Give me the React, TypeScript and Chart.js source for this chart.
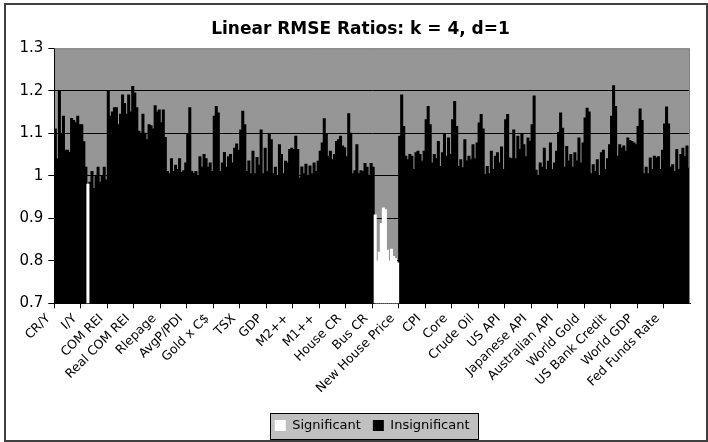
import { useEffect, useRef } from 'react';
import { Chart, registerables } from 'chart.js';

Chart.register(...registerables);

// Category groups (one axis label per group)
const groupLabels: string[] = [
  'CR/Y', 'I/Y', 'COM REI', 'Real COM REI', 'Rlepage', 'AvgP/PDI', 'Gold x C$', 'TSX',
  'GDP', 'M2++', 'M1++', 'House CR', 'Bus CR', 'New House Price', 'CPI', 'Core',
  'Crude Oil', 'US API', 'Japanese API', 'Australian API', 'World Gold', 'US Bank Credit',
  'World GDP', 'Fed Funds Rate',
];

// RMSE ratios, 13 bars per group, in group order
const ratios: number[] = [
  1.11, 1.04, 1.2, 1.1, 1.14, 1.06, 1.06, 1.055, 1.135, 1.13, 1.125, 1.14, 1.12,
  1.12, 1.08, 1.02, 0.98, 0.985, 1.01, 0.97, 1.0, 1.02, 0.985, 1.0, 1.02, 0.99,
  1.2, 1.14, 1.15, 1.16, 1.16, 1.12, 1.145, 1.19, 1.17, 1.145, 1.19, 1.15, 1.21,
  1.195, 1.16, 1.105, 1.1, 1.145, 1.1, 1.085, 1.12, 1.118, 1.11, 1.165, 1.15, 1.155,
  1.125, 1.155, 1.09, 1.01, 1.005, 1.04, 1.01, 1.025, 1.015, 1.04, 1.008, 1.012, 1.03,
  1.097, 1.16, 1.01, 1.005, 1.01, 1.0, 1.045, 1.02, 1.05, 1.04, 1.02, 1.03, 1.01,
  1.14, 1.163, 1.148, 1.01, 1.03, 1.055, 1.02, 1.045, 1.05, 1.03, 1.065, 1.075, 1.06,
  1.108, 1.152, 1.12, 1.01, 1.035, 1.005, 1.058, 1.005, 1.043, 1.025, 1.108, 1.005, 1.065,
  1.01, 1.097, 1.085, 1.005, 1.02, 1.0, 1.073, 1.05, 1.005, 1.034, 1.03, 1.062, 1.065,
  1.062, 1.093, 1.062, 0.995, 1.021, 1.005, 1.027, 1.0, 1.023, 1.005, 1.03, 1.01, 1.034,
  1.058, 1.077, 1.134, 1.097, 1.046, 1.058, 1.038, 1.05, 1.081, 1.085, 1.093, 1.07, 1.066,
  1.045, 1.146, 1.1, 1.005, 1.012, 1.073, 1.005, 1.012, 1.01, 1.029, 1.02, 1.0, 1.029,
  1.02, 0.908, 0.8, 0.82, 0.888, 0.924, 0.92, 0.825, 0.8, 0.827, 0.81, 0.805, 0.795,
  1.093, 1.19, 1.116, 1.046, 1.038, 1.05, 1.046, 1.015, 1.054, 1.058, 1.05, 1.034, 1.058,
  1.132, 1.163, 1.12, 1.03, 1.05, 1.04, 1.081, 1.022, 1.054, 1.097, 1.046, 1.089, 1.05,
  1.132, 1.175, 1.116, 1.022, 1.038, 1.019, 1.085, 1.035, 1.046, 1.038, 1.073, 1.04, 1.077,
  1.124, 1.144, 1.11, 1.003, 1.022, 1.005, 1.058, 1.015, 1.046, 1.054, 1.03, 1.068, 1.015,
  1.132, 1.144, 1.042, 1.04, 1.108, 1.04, 1.093, 1.062, 1.097, 1.073, 1.045, 1.089, 1.081,
  1.12, 1.188, 1.013, 1.0, 1.03, 1.02, 1.065, 1.015, 1.034, 1.077, 1.015, 1.03, 1.058,
  1.102, 1.148, 1.112, 1.02, 1.069, 1.035, 1.05, 1.02, 1.054, 1.035, 1.089, 1.03, 1.077,
  1.136, 1.159, 1.15, 1.005, 1.026, 1.01, 1.038, 1.0, 1.054, 1.06, 1.015, 1.04, 1.073,
  1.14, 1.212, 1.163, 1.046, 1.073, 1.065, 1.07, 1.058, 1.089, 1.083, 1.081, 1.077, 1.073,
  1.116, 1.157, 1.13, 1.005, 1.02, 1.005, 1.042, 1.015, 1.046, 1.042, 1.045, 1.015, 1.06,
  1.122, 1.162, 1.122, 1.02, 1.026, 1.01, 1.062, 1.015, 1.05, 1.065, 1.045, 1.07, 1.018,
];

// Indices of bars whose ratio is significant
const significantBars: number[] = [16, 157, 158, 159, 160, 161, 162, 163, 164, 165, 166, 167, 168];

const yTicks: number[] = [0.7, 0.8, 0.9, 1.0, 1.1, 1.2, 1.3];

const FONT = "'DejaVu Sans', 'Liberation Sans', Arial, sans-serif";

export default function App() {
  const ref = useRef<HTMLCanvasElement | null>(null);

  useEffect(() => {
    const canvas = ref.current;
    if (!canvas) return;
    const perGroup = ratios.length / groupLabels.length;
    const categories = ratios.map((_, i) => (i % perGroup === 0 ? groupLabels[i / perGroup] : ''));
    const sig = new Set(significantBars);
    const sigData = ratios.map((v, i) => (sig.has(i) ? v : null));
    const insData = ratios.map((v, i) => (sig.has(i) ? null : v));

    const decor = {
      id: 'decor',
      beforeDraw(chart: any) {
        const { ctx, chartArea: a } = chart;
        ctx.save();
        ctx.fillStyle = '#ffffff';
        ctx.fillRect(0, 0, chart.width, chart.height);
        ctx.fillStyle = '#969696';
        ctx.fillRect(a.left, a.top, a.right - a.left, a.bottom - a.top);
        const lg = chart.legend;
        if (lg && lg.legendHitBoxes && lg.legendHitBoxes.length) {
          const hb = lg.legendHitBoxes;
          const last = hb[hb.length - 1];
          const l = Math.round(hb[0].left - 5);
          const r = Math.round(last.left + last.width + 8);
          const cy = hb[0].top + hb[0].height / 2;
          const t = Math.round(cy - 13);
          ctx.fillStyle = '#c0c0c0';
          ctx.fillRect(l, t, r - l, 26);
          ctx.strokeStyle = '#000000';
          ctx.lineWidth = 1;
          ctx.strokeRect(l + 0.5, t + 0.5, r - l, 26);
        }
        ctx.restore();
      },
      afterDraw(chart: any) {
        const { ctx, chartArea: a } = chart;
        ctx.save();
        ctx.strokeStyle = '#808080';
        ctx.lineWidth = 1;
        ctx.beginPath();
        ctx.moveTo(a.left, a.top + 0.5);
        ctx.lineTo(a.right - 0.5, a.top + 0.5);
        ctx.lineTo(a.right - 0.5, a.bottom);
        ctx.stroke();
        ctx.strokeStyle = '#404040';
        ctx.lineWidth = 2;
        ctx.strokeRect(5, 4, 702, 437);
        ctx.restore();
      },
    };

    const chart = new Chart(canvas, {
      type: 'bar',
      data: {
        labels: categories,
        datasets: [
          {
            label: 'Significant',
            data: sigData,
            backgroundColor: '#ffffff',
            borderWidth: 0,
            inflateAmount: 0.5,
            grouped: false,
            barPercentage: 1,
            categoryPercentage: 1,
          } as any,
          {
            label: 'Insignificant',
            data: insData,
            backgroundColor: '#000000',
            borderWidth: 0,
            inflateAmount: 0.5,
            grouped: false,
            barPercentage: 1,
            categoryPercentage: 1,
          } as any,
        ],
      },
      options: {
        responsive: false,
        animation: false,
        devicePixelRatio: 1,
        layout: { padding: { left: 13, right: 0, top: 8, bottom: 0 } },
        plugins: {
          tooltip: { enabled: false },
          title: {
            display: true,
            text: 'Linear RMSE Ratios: k = 4, d=1',
            color: '#000000',
            font: { family: FONT, size: 17, weight: 'bold' },
            padding: { top: 11, bottom: 8.9 },
          },
          legend: {
            display: true,
            position: 'bottom',
            fullSize: false,
            labels: {
              color: '#000000',
              font: { family: FONT, size: 13 },
              boxWidth: 11,
              boxHeight: 11,
              padding: 12,
            },
          },
        },
        scales: {
          x: {
            type: 'category',
            offset: true,
            afterFit: (s: any) => {
              s.height = 103.7;
            },
            grid: {
              offset: true,
              drawOnChartArea: false,
              drawTicks: true,
              tickLength: 5,
              color: (c: any) => (c.index % perGroup === 0 ? '#000000' : 'rgba(0,0,0,0)'),
            },
            border: { display: true, color: '#000000', width: 1 },
            ticks: {
              autoSkip: false,
              maxRotation: 45,
              minRotation: 45,
              padding: 3,
              labelOffset: -7,
              color: '#000000',
              font: { family: FONT, size: 12.5 },
            },
          },
          y: {
            type: 'linear',
            position: 'left',
            min: yTicks[0],
            max: yTicks[yTicks.length - 1],
            beginAtZero: false,
            afterFit: (s: any) => {
              s.width = 41.3;
            },
            afterBuildTicks: (s: any) => {
              s.ticks = yTicks.map((v) => ({ value: v }));
            },
            grid: {
              color: (c: any) => (c.tick && c.tick.value > 1.29 ? 'rgba(0,0,0,0)' : '#000000'),
              tickColor: '#000000',
              tickLength: 6,
              drawTicks: true,
            },
            border: { display: true, color: '#000000', width: 1 },
            ticks: {
              padding: 5,
              color: '#000000',
              font: { family: FONT, size: 15 },
              callback: (v: any) => {
                const s = Number(v).toFixed(1);
                return s.endsWith('.0') ? s.slice(0, -2) : s;
              },
            },
          },
          yRight: {
            type: 'linear',
            position: 'right',
            display: true,
            afterFit: (s: any) => {
              s.width = 18;
            },
            grid: { display: false, drawTicks: false, drawOnChartArea: false },
            border: { display: false },
            ticks: { display: false },
          },
        },
      },
      plugins: [decor],
    });

    return () => chart.destroy();
  }, []);

  return (
    <div style={{ position: 'absolute', left: 0, top: 0, width: 708, height: 442, background: '#ffffff' }}>
      <canvas ref={ref} width={708} height={442} style={{ display: 'block', width: 708, height: 442 }} />
    </div>
  );
}
